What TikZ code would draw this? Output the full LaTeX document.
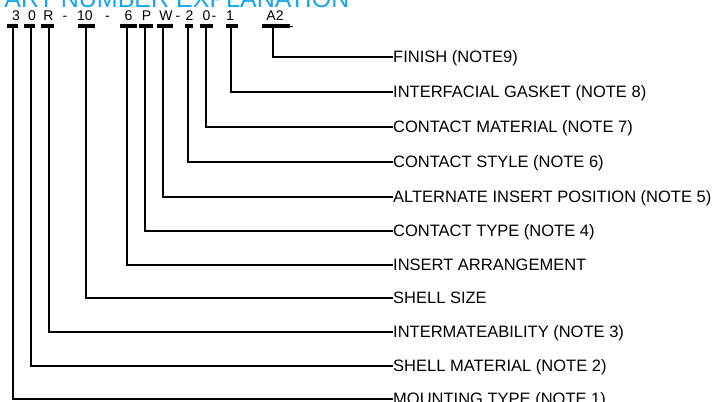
\documentclass[tikz,border=0pt]{standalone}
\usepackage{fontspec}
\setmainfont{Liberation Sans}
\definecolor{titleblue}{RGB}{20,165,235}
\begin{document}
\begin{tikzpicture}[x=1pt,y=-1pt,
  conn/.style={line width=1.8pt,black},
  bar/.style={line width=3.4pt,black},
  code/.style={font=\fontsize{14}{16}\selectfont,anchor=base,inner sep=0pt},
  lab/.style={font=\fontsize{16.5}{18}\selectfont,anchor=west,inner sep=0pt,text height=12pt,text depth=1pt},
  ttl/.style={font=\fontsize{25}{28}\selectfont,text=titleblue,anchor=base west,inner sep=0pt}]
\useasboundingbox (0,0) rectangle (716,402);
% title (cut off at top)
\node[ttl] (title) at (-10.6,7) {PART NUMBER EXPLANATION};
% code characters
\node[code] (c3)  at (16,20) {3};
\node[code] (c0a) at (32,20) {0};
\node[code] (cR)  at (48.5,20) {R};
\node[code] (d1)  at (65,20) {-};
\node[code] (c10) at (85,20) {10};
\node[code] (d2)  at (107.5,20) {-};
\node[code] (c6)  at (128.5,20) {6};
\node[code] (cP)  at (146.5,20) {P};
\node[code] (cW)  at (166,20) {W};
\node[code] (d3)  at (178,20) {-};
\node[code] (c2)  at (189.5,20) {2};
\node[code] (c0b) at (206.5,20) {0};
\node[code] (d4)  at (214,20) {-};
\node[code] (c1)  at (230,20) {1};
\node[code] (cA2) at (275,20) {A2};
% bars
\draw[bar] (7,26) -- (18,26);
\draw[bar] (24,26) -- (35,26);
\draw[bar] (41,26) -- (54,26);
\draw[bar] (78,26) -- (95,26);
\draw[bar] (120,26) -- (137,26);
\draw[bar] (139,26) -- (153,26);
\draw[bar] (157,26) -- (173,26);
\draw[bar] (185,26) -- (193,26);
\draw[bar] (200,26) -- (213,26);
\draw[bar] (226,26) -- (238,26);
\draw[bar] (262,26) -- (290,26);
\draw[line width=1pt] (289,26) -- (292.5,26);
% stem tops
\coordinate (tA) at (13,26);
\coordinate (tB) at (31,26);
\coordinate (tC) at (49,26);
\coordinate (tD) at (86,26);
\coordinate (tE) at (127,26);
\coordinate (tF) at (145,26);
\coordinate (tG) at (163,26);
\coordinate (tH) at (188,26);
\coordinate (tI) at (206,26);
\coordinate (tJ) at (231,26);
\coordinate (tK) at (273,26);
% labels
\node[lab] (lK) at (393,57)  {FINISH (NOTE9)};
\node[lab] (lJ) at (393,92)  {INTERFACIAL GASKET (NOTE 8)};
\node[lab] (lI) at (393,127) {CONTACT MATERIAL (NOTE 7)};
\node[lab] (lH) at (393,162) {CONTACT STYLE (NOTE 6)};
\node[lab] (lG) at (393,197) {ALTERNATE INSERT POSITION (NOTE 5)};
\node[lab] (lF) at (393,231) {CONTACT TYPE (NOTE 4)};
\node[lab] (lE) at (393,265) {INSERT ARRANGEMENT};
\node[lab] (lD) at (393,298) {SHELL SIZE};
\node[lab] (lC) at (393,332) {INTERMATEABILITY (NOTE 3)};
\node[lab] (lB) at (393,366) {SHELL MATERIAL (NOTE 2)};
\node[lab] (lA) at (393,399) {MOUNTING TYPE (NOTE 1)};
% connectors
\foreach \k in {A,B,C,D,E,F,G,H,I,J,K}
  \draw[conn] (t\k) |- (l\k.west);
\end{tikzpicture}
\end{document}
